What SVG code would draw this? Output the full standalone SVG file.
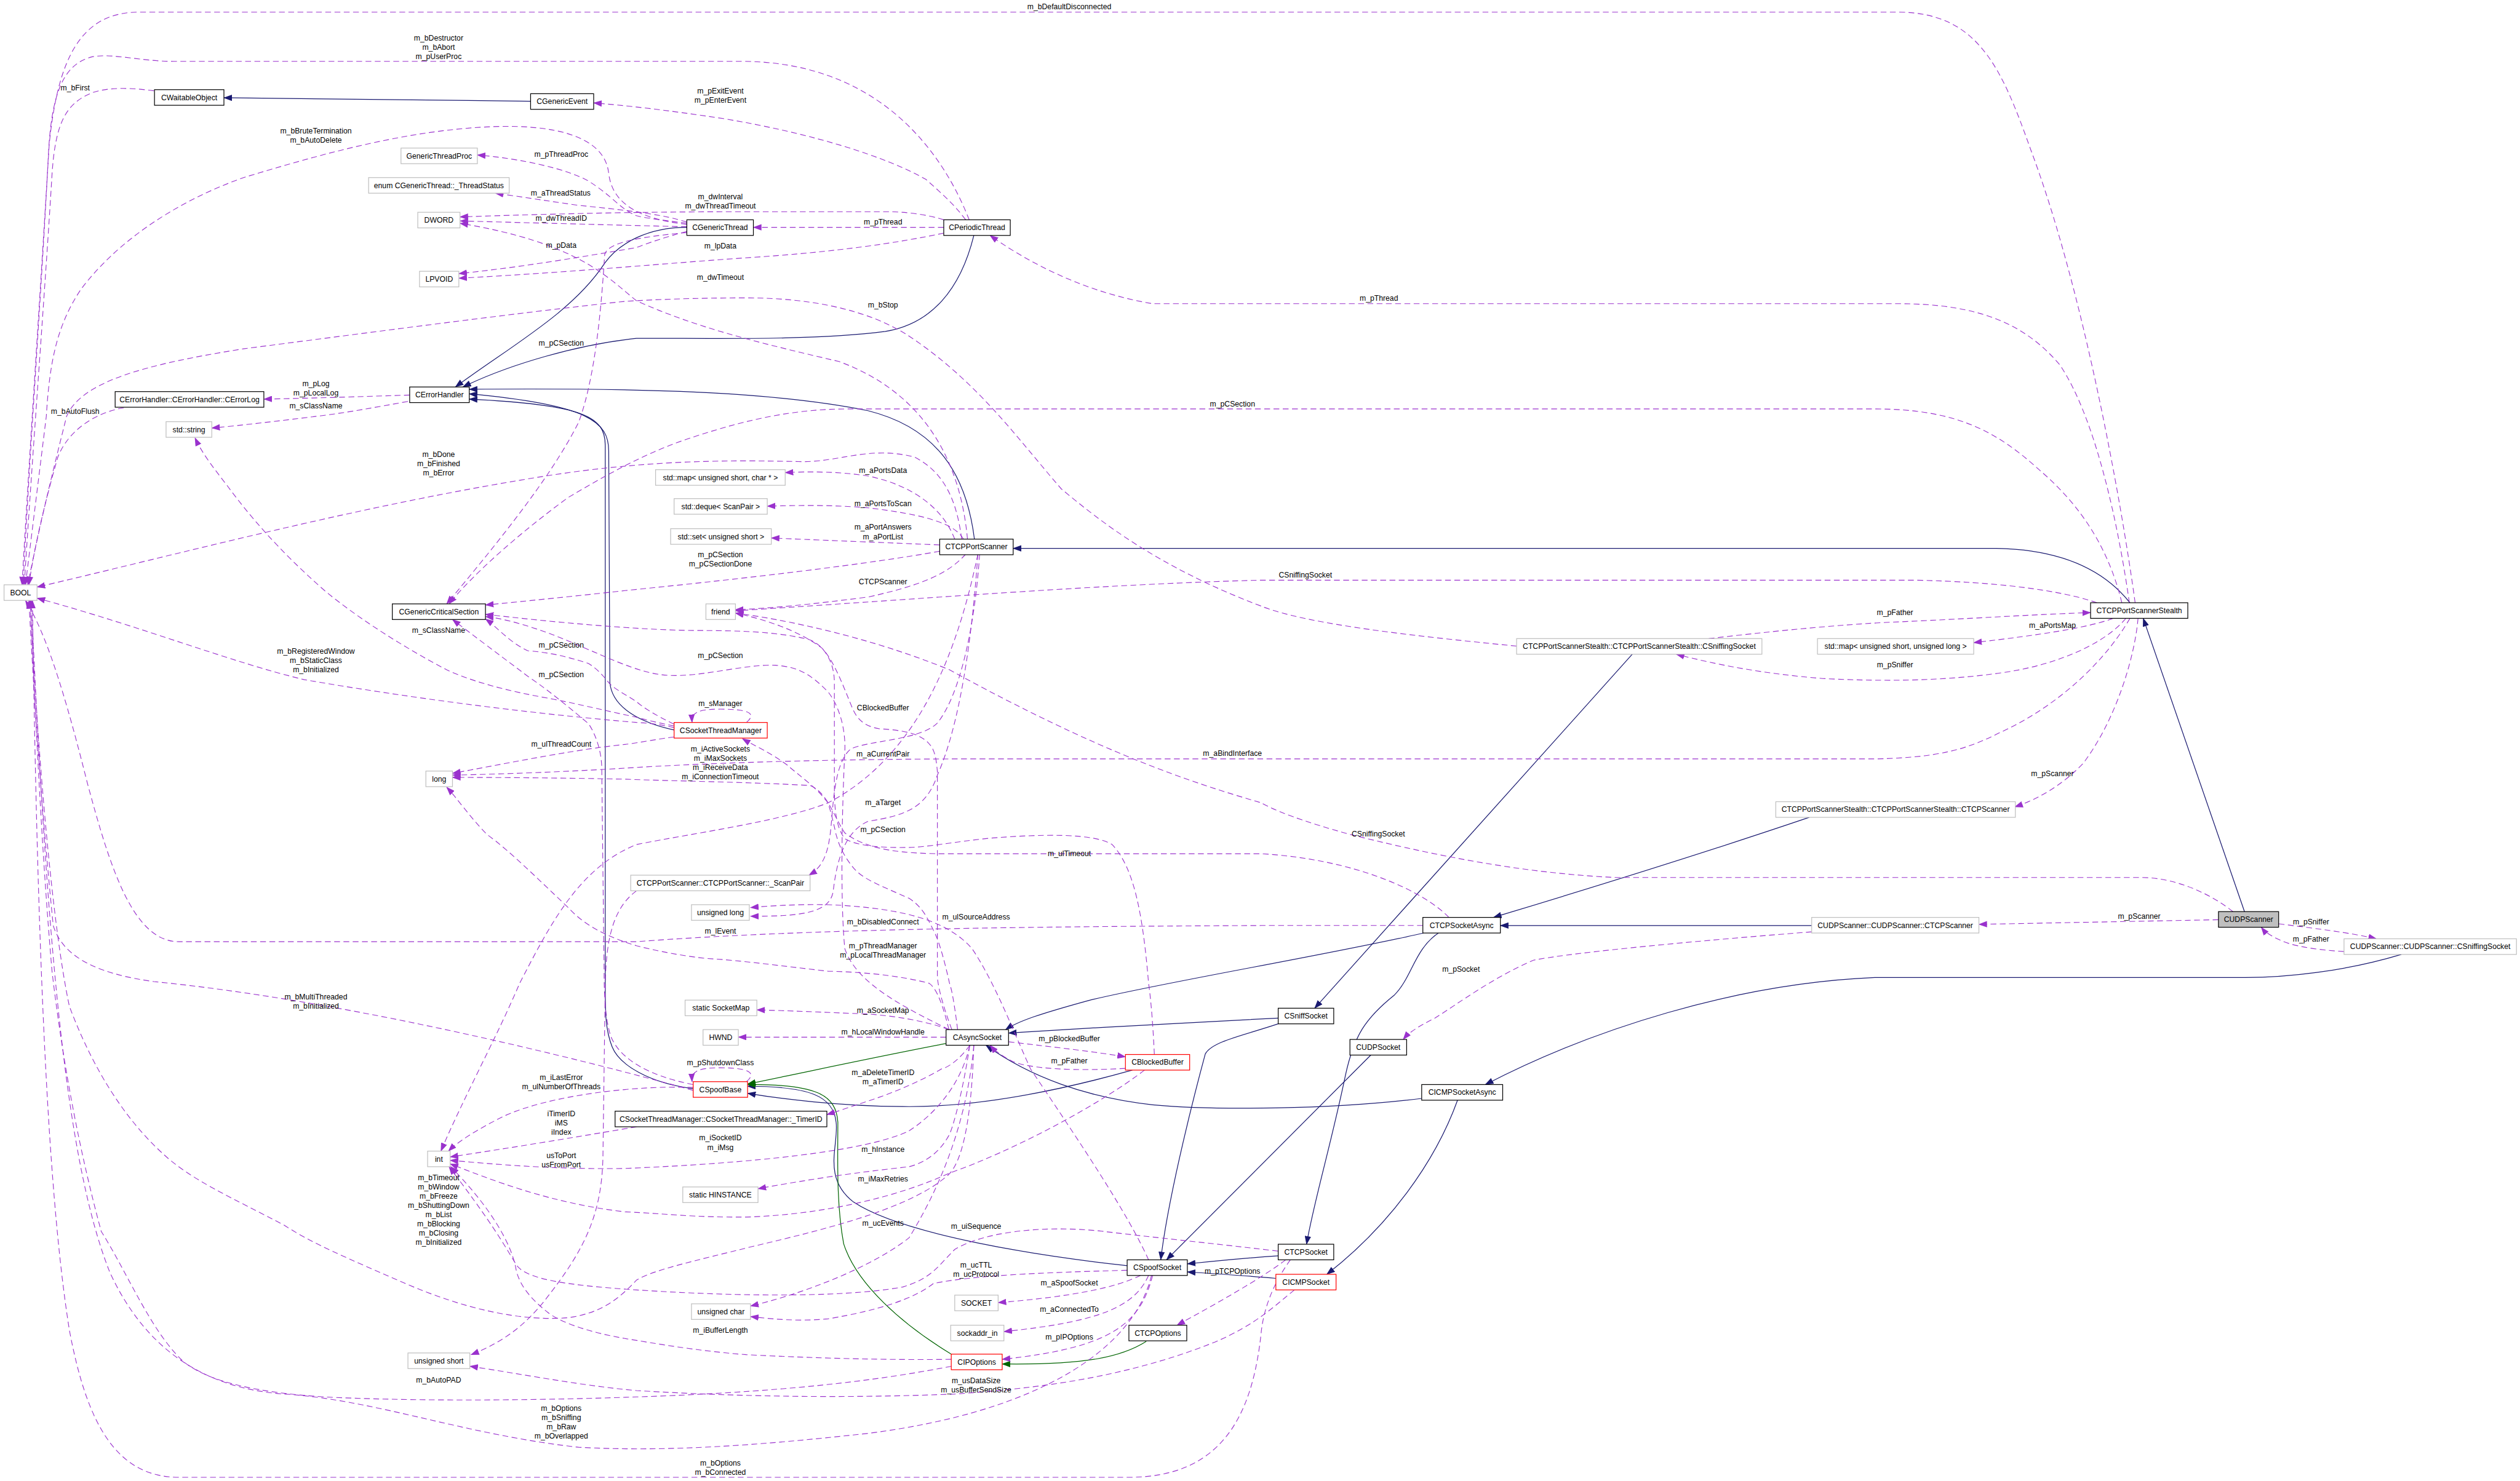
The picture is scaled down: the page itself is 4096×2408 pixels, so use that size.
<svg xmlns="http://www.w3.org/2000/svg" width="4096" height="2408" viewBox="0 0 4096 2408">
<defs>
<style>
text{font-family:"Liberation Sans",Arial,sans-serif;font-size:13px;fill:#000}
.n rect{fill:#fff;stroke:#000;stroke-width:1.3}
.n.gr rect{stroke:#bfbfbf}
.n.rd rect{stroke:#ff0000}
.n.sel rect{fill:#bfbfbf}
.n text{text-anchor:middle}
#labels text{text-anchor:middle}
.u{fill:none;stroke:#9a32cd;stroke-width:1.2;stroke-dasharray:10,6;marker-end:url(#ap)}
.i{fill:none;stroke:#191970;stroke-width:1.3;marker-end:url(#ab)}
.g{fill:none;stroke:#006400;stroke-width:1.3;marker-end:url(#ag)}
</style>
<marker id="ap" markerWidth="15" markerHeight="11" refX="14" refY="5.5" orient="auto" markerUnits="userSpaceOnUse"><path d="M0,0 L15,5.5 L0,11 z" fill="#9a32cd"/></marker>
<marker id="ab" markerWidth="15" markerHeight="11" refX="14" refY="5.5" orient="auto" markerUnits="userSpaceOnUse"><path d="M0,0 L15,5.5 L0,11 z" fill="#191970"/></marker>
<marker id="ag" markerWidth="15" markerHeight="11" refX="14" refY="5.5" orient="auto" markerUnits="userSpaceOnUse"><path d="M0,0 L15,5.5 L0,11 z" fill="#006400"/></marker>
</defs>
<rect x="0" y="0" width="4096" height="2408" fill="#fff"/>
<g transform="scale(0.9405)">
<g id="connectors">
<!-- inheritance -->
<path class="i" d="M917,175 L387,169"/>
<path class="i" d="M1187,393 C1120,393 1070,420 1045,455 C990,540 880,600 787,669"/>
<path class="i" d="M1683,407 C1660,500 1610,560 1530,573 C1400,590 1200,584 1100,585 C1000,595 880,630 800,669"/>
<path class="i" d="M1684,932 C1670,820 1620,740 1500,710 C1350,680 1150,670 811,673"/>
<path class="i" d="M1165,1262 C1110,1250 1058,1225 1054,1180 L1052,780 C1052,730 1020,700 811,681"/>
<path class="i" d="M1198,1882 C1120,1872 1070,1840 1058,1810 C1046,1780 1046,1750 1046,1700 L1046,770 C1046,720 1010,700 811,690"/>
<path class="i" d="M3681,1042 C3640,990 3570,950 3450,948 L1751,948"/>
<path class="i" d="M3879,1576 L3704,1069"/>
<path class="i" d="M3127,1413 C2900,1490 2700,1550 2581,1586"/>
<path class="i" d="M3131,1600 L2593,1600"/>
<path class="i" d="M2460,1613 C2300,1650 2000,1700 1880,1730 C1800,1752 1760,1765 1738,1780"/>
<path class="i" d="M2821,1131 L2272,1743"/>
<path class="i" d="M2209,1760 C2100,1765 1900,1776 1743,1786"/>
<path class="i" d="M2209,1770 C2150,1790 2095,1800 2083,1822 C2070,1870 2020,2060 2006,2178"/>
<path class="i" d="M2369,1824 L2016,2178"/>
<path class="i" d="M2486,1613 C2445,1640 2440,1690 2410,1720 C2360,1760 2340,1790 2325,1860 C2300,1980 2270,2080 2258,2151"/>
<path class="i" d="M2519,1902 C2480,2010 2400,2120 2293,2203"/>
<path class="i" d="M4150,1650 C4050,1680 3950,1690 3880,1690 L3240,1690 C3000,1700 2750,1780 2567,1875"/>
<path class="i" d="M2457,1899 C2300,1918 2100,1920 1992,1910 C1880,1898 1780,1862 1704,1807"/>
<path class="i" d="M2209,2171 C2150,2175 2100,2180 2052,2185"/>
<path class="i" d="M2205,2210 C2150,2205 2100,2202 2052,2199"/>
<path class="i" d="M1948,2188 C1800,2172 1560,2135 1475,2078 C1420,2035 1450,1980 1445,1940 C1440,1895 1400,1878 1292,1878"/>
<path class="i" d="M1957,1850 C1850,1880 1700,1915 1560,1913 C1450,1912 1350,1900 1292,1890"/>
<path class="g" d="M1635,1804 C1500,1830 1400,1852 1292,1874"/>
<path class="g" d="M1644,2341 C1560,2290 1480,2220 1458,2150 C1445,2080 1448,2000 1448,1940 C1445,1892 1410,1874 1292,1875"/>
<path class="g" d="M1981,2319 C1940,2345 1880,2360 1732,2358"/>
<!-- usage -->
<path class="u" d="M3690,1042 C3665,860 3600,500 3510,260 C3460,120 3420,21 3280,21 L240,21 C140,21 100,100 85,250 C70,500 50,800 38,1011"/>
<path class="u" d="M1675,380 C1620,240 1500,106 1280,106 L300,106 C240,106 200,92 160,98 C110,110 90,160 84,260 C72,500 50,800 40,1011"/>
<path class="u" d="M266,157 C230,152 190,150 160,160 C115,178 96,210 90,300 C78,500 55,800 42,1011"/>
<path class="u" d="M1187,388 C1100,378 1058,350 1052,300 C1045,232 950,215 850,219 C700,225 550,268 421,307 C300,350 200,420 140,500 C100,560 86,620 80,720 L44,1011"/>
<path class="u" d="M2621,1117 C2450,1100 2260,1080 2180,1048 C2000,980 1900,900 1834,845 C1760,760 1690,660 1571,581 C1500,535 1400,515 1290,515 C1200,515 1130,518 1080,521 C900,540 600,580 421,603 C250,630 140,660 115,720 C95,800 70,900 48,1011"/>
<path class="u" d="M214,705 C170,712 120,740 100,790 C80,860 60,940 50,1011"/>
<path class="u" d="M1662,932 C1655,880 1640,820 1580,790 C1500,770 1450,800 1380,798 C1250,795 1100,795 900,830 C600,880 300,960 64,1015"/>
<path class="u" d="M1165,1258 C1140,1252 1120,1250 1100,1249 C900,1232 700,1205 526,1175 C400,1145 250,1085 64,1034"/>
<path class="u" d="M2459,1600 L2180,1600 C1800,1602 1400,1605 1100,1628 L309,1628 C230,1628 190,1500 150,1350 C100,1150 70,1080 44,1038"/>
<path class="u" d="M1198,1885 C1000,1830 600,1730 266,1697 C180,1685 110,1660 92,1600 C72,1400 58,1200 50,1038"/>
<path class="u" d="M1683,1807 C1680,1900 1670,2000 1640,2030 C1580,2085 1450,2120 1300,2155 C1200,2180 1130,2195 1100,2213 C1070,2245 1040,2270 982,2278 C900,2285 800,2262 701,2219 C600,2175 540,2150 491,2118 C400,2070 330,2040 281,1994 C200,1920 150,1820 120,1740 C90,1600 65,1300 52,1038"/>
<path class="u" d="M1990,2205 C1960,2330 1800,2440 1500,2478 C1300,2500 1150,2510 1000,2502 C800,2480 650,2420 491,2410 C350,2400 250,2330 190,2200 C110,2000 80,1600 54,1038"/>
<path class="u" d="M2230,2178 C2200,2220 2185,2260 2180,2300 C2165,2450 2110,2554 1950,2554 L310,2554 C200,2554 150,2460 120,2300 C80,2050 64,1600 56,1038"/>
<path class="u" d="M2237,2230 C2200,2260 2170,2290 2100,2320 C1950,2380 1800,2400 1650,2410 C1400,2420 1200,2410 1100,2404 C1000,2395 900,2375 812,2362"/>
<path class="u" d="M1644,2362 C1550,2380 1400,2405 1100,2415 C900,2422 700,2422 561,2415 C450,2408 360,2390 316,2353 C260,2300 220,2200 175,2129 C140,2000 110,1850 90,1680 C70,1450 60,1200 52,1038"/>
<path class="u" d="M1644,2350 C1500,2352 1350,2345 1290,2342 C1200,2335 1130,2322 1080,2314 C1000,2300 960,2280 947,2269 C910,2240 895,2215 891,2190 C885,2160 860,2100 779,2017"/>
<path class="u" d="M2209,2163 C2100,2150 2000,2140 1900,2128 C1800,2118 1700,2130 1650,2160 C1620,2190 1610,2210 1560,2225 C1450,2245 1250,2240 1100,2230 C980,2222 915,2212 895,2190 C880,2170 870,2140 776,2017"/>
<path class="u" d="M1198,1880 C1100,1876 950,1893 870,1930 C820,1955 790,1975 775,1990"/>
<path class="u" d="M1100,1948 C1000,1965 880,1985 778,2000"/>
<path class="u" d="M1676,1807 C1660,1880 1610,1930 1571,1955 C1500,1990 1300,2011 1080,2020 C950,2022 850,2012 778,2006"/>
<path class="u" d="M1978,1850 C1900,1910 1750,1990 1641,2028 C1550,2070 1420,2100 1290,2104 C1200,2105 1150,2098 1080,2095 C950,2080 850,2040 778,2012"/>
<path class="u" d="M1690,958 C1660,1100 1600,1300 1431,1388 C1350,1420 1200,1440 1100,1460 C1000,1500 950,1600 898,1700 C860,1790 800,1900 762,1990"/>
<path class="u" d="M1100,1540 C1060,1570 1048,1620 1046,1700 L1042,2000 C1040,2100 1010,2160 947,2241 C910,2290 870,2320 814,2342"/>
<path class="u" d="M1683,1807 C1670,1950 1620,2060 1571,2140 C1520,2180 1420,2228 1297,2258"/>
<path class="u" d="M1948,2196 C1800,2200 1680,2205 1613,2219 C1580,2245 1520,2265 1431,2280 C1380,2285 1330,2280 1297,2276"/>
<path class="u" d="M1971,2205 C1930,2225 1860,2241 1725,2252"/>
<path class="u" d="M1985,2205 C1960,2260 1900,2285 1735,2302"/>
<path class="u" d="M1992,2205 C1970,2290 1920,2330 1732,2350"/>
<path class="u" d="M2222,2178 C2180,2210 2100,2255 2034,2291"/>
<path class="u" d="M1985,2178 C1950,2100 1870,1980 1781,1848 C1750,1780 1720,1700 1680,1640 C1640,1595 1571,1570 1431,1564 C1380,1563 1330,1566 1297,1569"/>
<path class="u" d="M1690,958 C1680,1100 1660,1250 1620,1340 C1600,1400 1560,1410 1500,1420 C1455,1440 1445,1500 1440,1540 C1435,1580 1380,1584 1297,1584"/>
<path class="u" d="M1693,958 C1685,1080 1660,1200 1620,1250 C1590,1280 1500,1280 1470,1295 C1440,1320 1440,1400 1435,1440 C1430,1480 1420,1500 1398,1513"/>
<path class="u" d="M1650,932 C1630,880 1580,840 1501,823 C1450,815 1400,815 1357,817"/>
<path class="u" d="M1665,932 C1650,905 1600,890 1501,878 C1430,872 1370,874 1326,875"/>
<path class="u" d="M1624,942 C1500,937 1400,933 1333,930"/>
<path class="u" d="M1624,953 C1500,975 1300,999 1080,1021 C1000,1030 900,1040 839,1046"/>
<path class="u" d="M1669,958 C1640,990 1600,1010 1501,1032 C1400,1045 1330,1052 1271,1054"/>
<path class="u" d="M1672,932 C1660,800 1600,680 1450,625 C1300,590 1200,565 1100,520 C1050,480 1000,420 795,386"/>
<path class="u" d="M1669,380 C1650,355 1634,340 1600,310 C1530,270 1400,230 1250,205 C1150,190 1080,182 1026,178"/>
<path class="u" d="M1631,380 C1600,370 1560,366 1536,366 L1290,366 C1150,366 1000,368 795,375"/>
<path class="u" d="M1631,393 L1302,393"/>
<path class="u" d="M1631,403 C1550,420 1450,435 1300,445 C1150,455 1000,470 793,481"/>
<path class="u" d="M1187,386 C1140,380 1110,376 1100,373 C1070,360 1060,340 1017,313 C980,292 900,274 825,268"/>
<path class="u" d="M1187,384 C1150,372 1100,365 1000,355 C950,348 900,340 856,334"/>
<path class="u" d="M1187,392 C1100,390 950,386 795,382"/>
<path class="u" d="M1187,400 C1150,410 1120,420 1100,428 C1000,445 900,462 793,473"/>
<path class="u" d="M1187,402 C1100,410 1050,420 1045,440 C1040,520 1030,650 1000,730 C950,830 850,950 772,1044"/>
<path class="u" d="M3680,1042 C3660,900 3620,720 3560,631 C3500,560 3420,525 3280,525 L1992,525 C1900,510 1800,470 1711,407"/>
<path class="u" d="M3667,1042 C3640,930 3580,860 3524,812 C3450,745 3380,707 3240,707 L1466,707 C1380,707 1300,722 1200,755 C1120,780 1050,820 982,860 C900,920 820,990 776,1044"/>
<path class="u" d="M3624,1042 C3560,1020 3450,1006 3311,1003 L2180,1003 C1900,1010 1600,1035 1271,1056"/>
<path class="u" d="M2953,1104 C3050,1093 3150,1082 3260,1076 C3400,1070 3500,1063 3613,1059"/>
<path class="u" d="M3652,1069 C3610,1085 3524,1098 3411,1111"/>
<path class="u" d="M3674,1069 C3640,1110 3560,1150 3453,1164 C3350,1178 3250,1178 3150,1173 C3050,1165 2970,1150 2897,1131"/>
<path class="u" d="M3695,1069 C3690,1130 3660,1240 3600,1320 C3560,1361 3520,1382 3482,1395"/>
<path class="u" d="M3681,1069 C3640,1140 3560,1220 3453,1268 C3400,1295 3350,1310 3240,1312 L1641,1312 C1400,1313 1200,1320 1080,1328 C980,1334 880,1338 782,1340"/>
<path class="u" d="M3859,1576 C3820,1545 3760,1517 3700,1517 L2791,1517 C2650,1510 2511,1487 2335,1443 C2250,1420 2200,1400 2180,1388 C2050,1350 1900,1300 1641,1158 C1500,1100 1350,1070 1271,1060"/>
<path class="u" d="M3834,1590 L3420,1598"/>
<path class="u" d="M3938,1597 C4000,1605 4060,1612 4107,1623"/>
<path class="u" d="M4051,1645 C4000,1642 3960,1635 3940,1625 C3925,1618 3915,1612 3908,1603"/>
<path class="u" d="M3131,1611 C2950,1625 2721,1646 2650,1660 C2580,1690 2520,1735 2480,1760 C2450,1775 2435,1785 2425,1797"/>
<path class="u" d="M2504,1586 C2460,1540 2340,1485 2180,1476 L1641,1476 C1560,1476 1500,1470 1460,1440 C1440,1410 1430,1370 1400,1358 C1300,1352 1150,1350 1080,1347 C980,1345 880,1344 782,1344"/>
<path class="u" d="M1640,1780 C1630,1740 1620,1710 1606,1700 C1550,1685 1480,1680 1431,1679 C1350,1670 1280,1660 1220,1657 C1160,1650 1120,1640 1100,1635 C1050,1620 1010,1600 982,1569 C930,1520 880,1470 842,1443 C810,1410 790,1380 772,1361"/>
<path class="u" d="M1655,1780 C1650,1740 1645,1710 1641,1700 C1630,1650 1620,1620 1613,1608 C1600,1580 1590,1565 1571,1553 C1520,1530 1490,1520 1473,1498 C1455,1475 1450,1460 1445,1443 C1440,1420 1435,1400 1431,1388 C1410,1360 1380,1340 1361,1323 C1330,1300 1305,1290 1283,1277"/>
<path class="u" d="M1645,1780 C1630,1740 1622,1710 1620,1690 L1620,1334 C1618,1310 1615,1295 1605,1285 C1590,1268 1560,1262 1520,1260 C1490,1255 1480,1240 1473,1224 C1455,1180 1440,1140 1420,1120 C1380,1090 1320,1070 1271,1060"/>
<path class="u" d="M1640,1780 C1560,1740 1480,1700 1460,1640 C1452,1560 1455,1400 1460,1300 C1462,1260 1450,1220 1431,1196 C1400,1165 1380,1153 1340,1150 C1280,1148 1200,1175 1140,1166 C1080,1158 1000,1110 920,1085 C890,1075 860,1068 839,1066"/>
<path class="u" d="M1995,1823 C1992,1760 1988,1720 1985,1700 C1975,1580 1960,1500 1922,1460 C1890,1440 1800,1442 1711,1449 C1650,1455 1600,1465 1571,1465 C1520,1466 1480,1462 1460,1450 C1445,1430 1442,1400 1442,1360 L1442,1180 C1442,1140 1420,1112 1396,1105 C1340,1092 1280,1090 1200,1090 C1100,1089 950,1075 839,1062"/>
<path class="u" d="M1165,1274 C1120,1280 1100,1285 1080,1287 C1000,1295 900,1315 782,1337"/>
<path class="u" d="M1165,1255 C1130,1248 1110,1243 1100,1240 C1030,1225 990,1215 947,1207 C880,1195 820,1180 772,1158 C700,1120 620,1070 561,1021 C480,950 430,890 393,840 C370,810 350,785 337,757"/>
<path class="u" d="M1165,1252 C1130,1235 1110,1222 1100,1213 C1080,1200 1060,1190 1052,1180 C1040,1165 1030,1155 1017,1147 C980,1135 950,1128 912,1125 C880,1110 860,1085 839,1070"/>
<path class="u" d="M1198,1875 C1120,1860 1070,1830 1055,1790 C1046,1760 1044,1720 1044,1680 L1040,1330 C1040,1300 1030,1270 1017,1251 C980,1220 950,1195 912,1169 C860,1130 820,1100 782,1071"/>
<path class="u" d="M1290,1249 C1310,1232 1290,1226 1245,1226 C1205,1226 1195,1232 1196,1249"/>
<path class="u" d="M1290,1870 C1310,1853 1290,1846 1245,1846 C1205,1846 1195,1852 1196,1870"/>
<path class="u" d="M1640,1780 C1600,1765 1550,1757 1501,1753 C1420,1750 1360,1747 1308,1746"/>
<path class="u" d="M1635,1793 L1276,1793"/>
<path class="u" d="M1743,1801 C1820,1810 1890,1818 1945,1827"/>
<path class="u" d="M1945,1847 C1860,1852 1781,1848 1750,1835 C1730,1825 1718,1815 1711,1807"/>
<path class="u" d="M1676,1807 C1660,1830 1640,1845 1627,1848 C1590,1870 1536,1893 1480,1910 C1460,1917 1445,1922 1429,1927"/>
<path class="u" d="M1676,1807 C1665,1880 1650,1940 1641,1961 C1620,2000 1590,2012 1571,2017 C1500,2025 1431,2033 1310,2055"/>
<path class="u" d="M705,694 C650,704 600,713 561,718 C480,728 420,735 366,740"/>
<path class="u" d="M708,683 C640,685 560,688 456,690"/>
</g>
<g id="nodes">
<g id="CWaitableObject" class="n"><rect x="267" y="155" width="120" height="27"/><text x="327" y="173">CWaitableObject</text></g>
<g id="CGenericEvent" class="n"><rect x="917" y="162" width="109" height="27"/><text x="971.5" y="180">CGenericEvent</text></g>
<g id="GenericThreadProc" class="n gr"><rect x="693" y="256" width="132" height="27"/><text x="759" y="274">GenericThreadProc</text></g>
<g id="ThreadStatus" class="n gr"><rect x="637" y="307" width="243" height="27"/><text x="758.5" y="325">enum CGenericThread::_ThreadStatus</text></g>
<g id="DWORD" class="n gr"><rect x="722" y="367" width="73" height="27"/><text x="758.5" y="385">DWORD</text></g>
<g id="LPVOID" class="n gr"><rect x="725" y="469" width="68" height="27"/><text x="759" y="487">LPVOID</text></g>
<g id="CGenericThread" class="n"><rect x="1187" y="380" width="115" height="27"/><text x="1244.5" y="398">CGenericThread</text></g>
<g id="CPeriodicThread" class="n"><rect x="1631" y="380" width="115" height="27"/><text x="1688.5" y="398">CPeriodicThread</text></g>
<g id="CErrorLog" class="n"><rect x="199" y="677" width="257" height="27"/><text x="327.5" y="695">CErrorHandler::CErrorHandler::CErrorLog</text></g>
<g id="CErrorHandler" class="n"><rect x="708" y="669" width="103" height="27"/><text x="759.5" y="687">CErrorHandler</text></g>
<g id="stdstring" class="n gr"><rect x="287" y="729" width="79" height="27"/><text x="326.5" y="747">std::string</text></g>
<g id="mapUSChar" class="n gr"><rect x="1133" y="812" width="224" height="27"/><text x="1245" y="830">std::map&lt; unsigned short, char * &gt;</text></g>
<g id="dequeScanPair" class="n gr"><rect x="1165" y="862" width="161" height="27"/><text x="1245.5" y="880">std::deque&lt; ScanPair &gt;</text></g>
<g id="setUS" class="n gr"><rect x="1159" y="914" width="174" height="27"/><text x="1246" y="932">std::set&lt; unsigned short &gt;</text></g>
<g id="CTCPPortScanner" class="n"><rect x="1624" y="932" width="127" height="27"/><text x="1687.5" y="950">CTCPPortScanner</text></g>
<g id="BOOL" class="n gr"><rect x="7" y="1011" width="57" height="27"/><text x="35.5" y="1029">BOOL</text></g>
<g id="CGenericCriticalSection" class="n"><rect x="678" y="1044" width="161" height="27"/><text x="758.5" y="1062">CGenericCriticalSection</text></g>
<g id="friend" class="n gr"><rect x="1220" y="1044" width="51" height="27"/><text x="1245.5" y="1062">friend</text></g>
<g id="StealthSniffingSocket" class="n gr"><rect x="2621" y="1104" width="424" height="27"/><text x="2833" y="1122">CTCPPortScannerStealth::CTCPPortScannerStealth::CSniffingSocket</text></g>
<g id="mapUSUL" class="n gr"><rect x="3141" y="1104" width="270" height="27"/><text x="3276" y="1122">std::map&lt; unsigned short, unsigned long &gt;</text></g>
<g id="CTCPPortScannerStealth" class="n"><rect x="3613" y="1042" width="168" height="27"/><text x="3697" y="1060">CTCPPortScannerStealth</text></g>
<g id="CSocketThreadManager" class="n rd"><rect x="1165" y="1249" width="161" height="27"/><text x="1245.5" y="1267">CSocketThreadManager</text></g>
<g id="long" class="n gr"><rect x="736" y="1333" width="46" height="27"/><text x="759" y="1351">long</text></g>
<g id="StealthTCPScanner" class="n gr"><rect x="3069" y="1386" width="414" height="27"/><text x="3276" y="1404">CTCPPortScannerStealth::CTCPPortScannerStealth::CTCPScanner</text></g>
<g id="ScanPair" class="n gr"><rect x="1090" y="1513" width="310" height="27"/><text x="1245" y="1531">CTCPPortScanner::CTCPPortScanner::_ScanPair</text></g>
<g id="unsignedlong" class="n gr"><rect x="1195" y="1564" width="100" height="27"/><text x="1245" y="1582">unsigned long</text></g>
<g id="CTCPSocketAsync" class="n"><rect x="2459" y="1586" width="134" height="27"/><text x="2526" y="1604">CTCPSocketAsync</text></g>
<g id="UDPTCPScanner" class="n gr"><rect x="3131" y="1586" width="289" height="27"/><text x="3275.5" y="1604">CUDPScanner::CUDPScanner::CTCPScanner</text></g>
<g id="CUDPScanner" class="n sel"><rect x="3834" y="1576" width="104" height="27"/><text x="3886" y="1594">CUDPScanner</text></g>
<g id="UDPSniffingSocket" class="n gr"><rect x="4051" y="1623" width="298" height="27"/><text x="4200" y="1641">CUDPScanner::CUDPScanner::CSniffingSocket</text></g>
<g id="SocketMap" class="n gr"><rect x="1184" y="1729" width="124" height="27"/><text x="1246" y="1747">static SocketMap</text></g>
<g id="HWND" class="n gr"><rect x="1215" y="1780" width="61" height="27"/><text x="1245.5" y="1798">HWND</text></g>
<g id="CAsyncSocket" class="n"><rect x="1635" y="1780" width="108" height="27"/><text x="1689" y="1798">CAsyncSocket</text></g>
<g id="CSniffSocket" class="n"><rect x="2209" y="1743" width="96" height="27"/><text x="2257" y="1761">CSniffSocket</text></g>
<g id="CBlockedBuffer" class="n rd"><rect x="1945" y="1823" width="111" height="27"/><text x="2000.5" y="1841">CBlockedBuffer</text></g>
<g id="CUDPSocket" class="n"><rect x="2333" y="1797" width="98" height="27"/><text x="2382" y="1815">CUDPSocket</text></g>
<g id="CSpoofBase" class="n rd"><rect x="1198" y="1870" width="94" height="27"/><text x="1245" y="1888">CSpoofBase</text></g>
<g id="CICMPSocketAsync" class="n"><rect x="2457" y="1875" width="140" height="27"/><text x="2527" y="1893">CICMPSocketAsync</text></g>
<g id="TimerID" class="n"><rect x="1063" y="1921" width="366" height="27"/><text x="1246" y="1939">CSocketThreadManager::CSocketThreadManager::_TimerID</text></g>
<g id="int" class="n gr"><rect x="739" y="1990" width="39" height="27"/><text x="758.5" y="2008">int</text></g>
<g id="HINSTANCE" class="n gr"><rect x="1180" y="2052" width="130" height="27"/><text x="1245" y="2070">static HINSTANCE</text></g>
<g id="CTCPSocket" class="n"><rect x="2209" y="2151" width="96" height="27"/><text x="2257" y="2169">CTCPSocket</text></g>
<g id="CSpoofSocket" class="n"><rect x="1948" y="2178" width="104" height="27"/><text x="2000" y="2196">CSpoofSocket</text></g>
<g id="CICMPSocket" class="n rd"><rect x="2205" y="2203" width="104" height="27"/><text x="2257" y="2221">CICMPSocket</text></g>
<g id="SOCKET" class="n gr"><rect x="1650" y="2239" width="75" height="27"/><text x="1687.5" y="2257">SOCKET</text></g>
<g id="unsignedchar" class="n gr"><rect x="1195" y="2254" width="102" height="27"/><text x="1246" y="2272">unsigned char</text></g>
<g id="sockaddr_in" class="n gr"><rect x="1643" y="2291" width="92" height="27"/><text x="1689" y="2309">sockaddr_in</text></g>
<g id="CTCPOptions" class="n"><rect x="1951" y="2291" width="100" height="27"/><text x="2001" y="2309">CTCPOptions</text></g>
<g id="unsignedshort" class="n gr"><rect x="705" y="2339" width="107" height="27"/><text x="758.5" y="2357">unsigned short</text></g>
<g id="CIPOptions" class="n rd"><rect x="1644" y="2341" width="88" height="27"/><text x="1688" y="2359">CIPOptions</text></g>
</g>
<g id="labels">
<text x="1848" y="16">m_bDefaultDisconnected</text>
<text x="758" y="70">m_bDestructor</text><text x="758" y="86">m_bAbort</text><text x="758" y="102">m_pUserProc</text>
<text x="130" y="156">m_bFirst</text>
<text x="1245" y="162">m_pExitEvent</text><text x="1245" y="178">m_pEnterEvent</text>
<text x="546" y="231">m_bBruteTermination</text><text x="546" y="247">m_bAutoDelete</text>
<text x="970" y="271">m_pThreadProc</text>
<text x="969" y="338">m_aThreadStatus</text>
<text x="1245" y="344">m_dwInterval</text><text x="1245" y="360">m_dwThreadTimeout</text>
<text x="970" y="382">m_dwThreadID</text>
<text x="1526" y="388">m_pThread</text>
<text x="970" y="428">m_pData</text>
<text x="1245" y="430">m_lpData</text>
<text x="1245" y="484">m_dwTimeout</text>
<text x="2383" y="520">m_pThread</text>
<text x="1526" y="532">m_bStop</text>
<text x="970" y="598">m_pCSection</text>
<text x="546" y="668">m_pLog</text><text x="546" y="684">m_pLocalLog</text>
<text x="546" y="706">m_sClassName</text>
<text x="130" y="716">m_bAutoFlush</text>
<text x="2130" y="703">m_pCSection</text>
<text x="758" y="790">m_bDone</text><text x="758" y="806">m_bFinished</text><text x="758" y="822">m_bError</text>
<text x="1526" y="818">m_aPortsData</text>
<text x="1526" y="875">m_aPortsToScan</text>
<text x="1526" y="916">m_aPortAnswers</text><text x="1526" y="932">m_aPortList</text>
<text x="1245" y="963">m_pCSection</text><text x="1245" y="979">m_pCSectionDone</text>
<text x="2256" y="998">CSniffingSocket</text>
<text x="1526" y="1010">CTCPScanner</text>
<text x="3275" y="1063">m_pFather</text>
<text x="3547" y="1086">m_aPortsMap</text>
<text x="758" y="1094">m_sClassName</text>
<text x="970" y="1120">m_pCSection</text>
<text x="1245" y="1138">m_pCSection</text>
<text x="546" y="1130">m_bRegisteredWindow</text><text x="546" y="1146">m_bStaticClass</text><text x="546" y="1162">m_bInitialized</text>
<text x="3275" y="1154">m_pSniffer</text>
<text x="970" y="1171">m_pCSection</text>
<text x="1245" y="1221">m_sManager</text>
<text x="1526" y="1228">CBlockedBuffer</text>
<text x="970" y="1291">m_ulThreadCount</text>
<text x="1245" y="1299">m_iActiveSockets</text><text x="1245" y="1315">m_iMaxSockets</text><text x="1245" y="1331">m_iReceiveData</text><text x="1245" y="1347">m_iConnectionTimeout</text>
<text x="1526" y="1308">m_aCurrentPair</text>
<text x="2130" y="1307">m_aBindInterface</text>
<text x="3547" y="1342">m_pScanner</text>
<text x="1526" y="1392">m_aTarget</text>
<text x="1526" y="1439">m_pCSection</text>
<text x="2382" y="1446">CSniffingSocket</text>
<text x="1848" y="1480">m_ulTimeout</text>
<text x="1687" y="1590">m_ulSourceAddress</text>
<text x="1526" y="1598">m_bDisabledConnect</text>
<text x="3697" y="1588">m_pScanner</text>
<text x="3994" y="1598">m_pSniffer</text>
<text x="1245" y="1614">m_lEvent</text>
<text x="3994" y="1628">m_pFather</text>
<text x="1526" y="1640">m_pThreadManager</text><text x="1526" y="1656">m_pLocalThreadManager</text>
<text x="2525" y="1680">m_pSocket</text>
<text x="546" y="1728">m_bMultiThreaded</text><text x="546" y="1744">m_bInitialized</text>
<text x="1526" y="1751">m_aSocketMap</text>
<text x="1526" y="1788">m_hLocalWindowHandle</text>
<text x="1848" y="1800">m_pBlockedBuffer</text>
<text x="1848" y="1838">m_pFather</text>
<text x="1245" y="1842">m_pShutdownClass</text>
<text x="1526" y="1859">m_aDeleteTimerID</text><text x="1526" y="1875">m_aTimerID</text>
<text x="970" y="1867">m_iLastError</text><text x="970" y="1883">m_ulNumberOfThreads</text>
<text x="970" y="1930">iTimerID</text><text x="970" y="1946">iMS</text><text x="970" y="1962">iIndex</text>
<text x="1245" y="1971">m_iSocketID</text><text x="1245" y="1988">m_iMsg</text>
<text x="1526" y="1992">m_hInstance</text>
<text x="970" y="2002">usToPort</text><text x="970" y="2018">usFromPort</text>
<text x="758" y="2040">m_bTimeout</text><text x="758" y="2056">m_bWindow</text><text x="758" y="2072">m_bFreeze</text><text x="758" y="2088">m_bShuttingDown</text><text x="758" y="2104">m_bList</text><text x="758" y="2120">m_bBlocking</text><text x="758" y="2136">m_bClosing</text><text x="758" y="2152">m_bInitialized</text>
<text x="1526" y="2043">m_iMaxRetries</text>
<text x="1526" y="2119">m_ucEvents</text>
<text x="1687" y="2124">m_uiSequence</text>
<text x="1687" y="2191">m_ucTTL</text><text x="1687" y="2207">m_ucProtocol</text>
<text x="2130" y="2202">m_pTCPOptions</text>
<text x="1848" y="2222">m_aSpoofSocket</text>
<text x="1848" y="2268">m_aConnectedTo</text>
<text x="1245" y="2304">m_iBufferLength</text>
<text x="1848" y="2316">m_pIPOptions</text>
<text x="758" y="2390">m_bAutoPAD</text>
<text x="1687" y="2391">m_usDataSize</text><text x="1687" y="2407">m_usBufferSendSize</text>
<text x="970" y="2439">m_bOptions</text><text x="970" y="2455">m_bSniffing</text><text x="970" y="2471">m_bRaw</text><text x="970" y="2487">m_bOverlapped</text>
<text x="1245" y="2534">m_bOptions</text><text x="1245" y="2550">m_bConnected</text>
</g>
</g>
</svg>
